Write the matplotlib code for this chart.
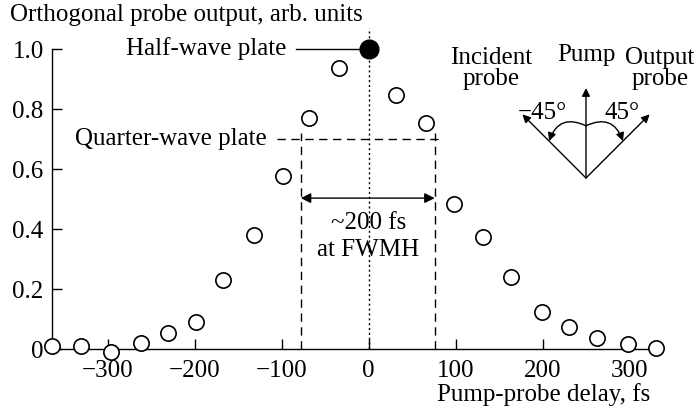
import numpy as np
import matplotlib

matplotlib.use("Agg")
import matplotlib.pyplot as plt  # noqa: E402
from matplotlib.patches import FancyArrowPatch  # noqa: E402

plt.rcParams.update({
    "font.family": ["Liberation Serif", "DejaVu Serif"],
    "font.size": 18,
    "axes.linewidth": 1.0,
})

# open circles: pump-probe delay (fs) and orthogonal probe output
delay = [-364, -331, -296, -262, -231, -198, -167, -132, -99, -68, -34,
         31, 66, 98, 131, 164, 199, 230, 263, 298, 330]
output = [0.01, 0.01, -0.01, 0.02, 0.055, 0.09, 0.23, 0.38, 0.577, 0.77, 0.937,
          0.847, 0.753, 0.483, 0.373, 0.24, 0.123, 0.073, 0.037, 0.017, 0.003]
# filled circle: half-wave plate
half_delay = [0]
half_output = [1.0]
# quarter-wave plate level and FWHM bounds
quarter_level = 0.7
fwhm_bounds = [-78, 76]

xticks = [-300, -200, -100, 0, 100, 200, 300]
yticks = [0, 0.2, 0.4, 0.6, 0.8, 1.0]
ytick_labels = ["0", "0.2", "0.4", "0.6", "0.8", "1.0"]

# polarisation diagram: angle from vertical (deg)
pol_angles = [-45, 0, 45]

W, H = 699, 415
fig = plt.figure(figsize=(W / 100, H / 100), dpi=100)
ax = fig.add_axes([52 / W, 66 / H, 608 / W, 330 / H])
ax.set_xlim(-364, 335)
ax.set_ylim(0, 1.1)

for side in ("top", "right"):
    ax.spines[side].set_visible(False)
ax.spines["left"].set_bounds(0, 1.0)
ax.spines["bottom"].set_bounds(-364, 338)

ax.set_xticks(xticks)
ax.set_xticklabels([f"{v}".replace("-", "\u2212") for v in xticks])
ax.set_yticks(yticks)
ax.set_yticklabels(ytick_labels)
ax.tick_params(direction="in", length=7, width=1.0, labelsize=18)
ax.tick_params(axis="x", pad=8)
ax.tick_params(axis="y", pad=6)

# guide lines
ax.plot([0, 0], [0, 1.07], ls=(0, (1.5, 2)), color="k", lw=1.0)
ax.plot([-83, 0], [1.0, 1.0], color="k", lw=1.0)
ax.plot([-105, 84], [quarter_level, quarter_level], color="k", lw=1.0, ls=(0, (6, 4)))
for xb in fwhm_bounds:
    ax.plot([xb, xb], [0, quarter_level + 0.02], color="k", lw=1.0, ls=(0, (6, 4)))
ax.annotate("", xy=(fwhm_bounds[0], 0.503), xytext=(fwhm_bounds[1], 0.503),
            arrowprops=dict(arrowstyle="<|-|>", color="k", lw=1.0,
                            shrinkA=0, shrinkB=0, mutation_scale=15))

ax.plot(delay, output, "o", ms=11, mfc="white", mec="k", mew=1.2, clip_on=False, zorder=5)
ax.plot(half_delay, half_output, "o", ms=13.5, mfc="k", mec="k", clip_on=False, zorder=6)

ax.text(-95, 1.0, "Half-wave plate", ha="right", va="center")
ax.text(-117, quarter_level, "Quarter-wave plate", ha="right", va="center")
ax.text(0, 0.42, "~200 fs", ha="center", va="center")
ax.text(0, 0.33, "at FWMH", ha="center", va="center")

fig.text(10 / W, 1 - 15 / H, "Orthogonal probe output, arb. units", ha="left", va="center")
fig.text(650 / W, 1 - 395 / H, "Pump-probe delay, fs", ha="right", va="center")

# polarisation diagram inset
ins = fig.add_axes([466 / W, 1 - 200 / H, 240 / W, 180 / H])
ins.set_xlim(-120 / 90, 120 / 90)
ins.set_ylim(-22 / 90, 158 / 90)
ins.axis("off")
for ang in pol_angles:
    t = np.deg2rad(ang)
    ins.annotate("", xy=(np.sin(t), np.cos(t)), xytext=(0, 0),
                 arrowprops=dict(arrowstyle="-|>", color="k", lw=1.0,
                                 shrinkA=0, shrinkB=0, mutation_scale=12))
r = 0.58
for ang, rad in ((-45, 0.55), (45, -0.55)):
    t = np.deg2rad(ang)
    arc = FancyArrowPatch((0, r), (r * np.sin(t), r * np.cos(t)),
                          connectionstyle=f"arc3,rad={rad}", arrowstyle="-|>",
                          mutation_scale=12, color="k", lw=1.0, shrinkA=0, shrinkB=0)
    ins.add_patch(arc)
ins.text(-0.48, 0.72, "\u221245\u00b0", ha="center", va="center")
ins.text(0.40, 0.72, "45\u00b0", ha="center", va="center")
ins.text(0.0, 1.37, "Pump", ha="center", va="center")
ins.text(-1.05, 1.22, "Incident\nprobe", ha="center", va="center", linespacing=0.95)
ins.text(0.82, 1.22, "Output\nprobe", ha="center", va="center", linespacing=0.95)

fig.savefig("out.png", dpi=100)
